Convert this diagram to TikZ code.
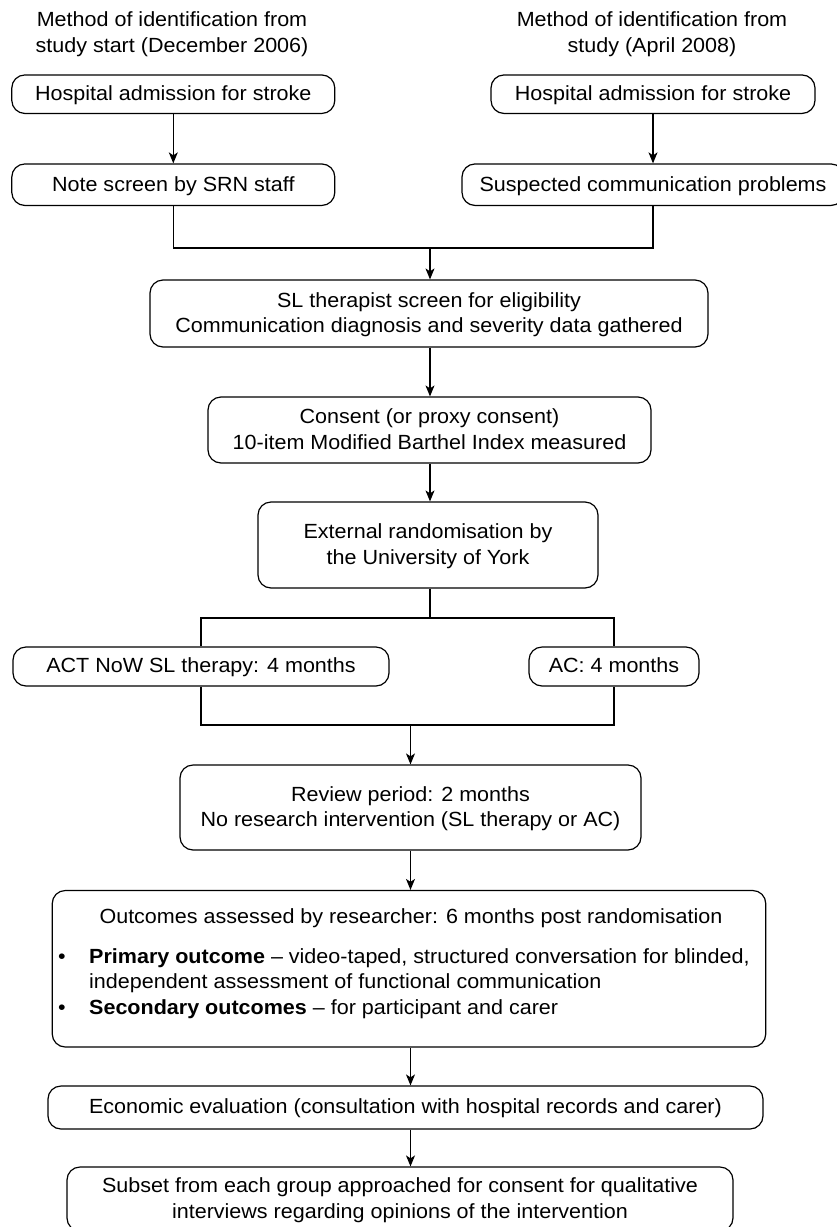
\documentclass[tikz,border=0pt]{standalone}
\usepackage{fontspec}
\setmainfont{Liberation Sans}[FakeStretch=1.05]
\usetikzlibrary{arrows.meta}
\begin{document}
\begin{tikzpicture}[x=1pt,y=-1pt,
  every node/.style={font=\fontsize{20.5}{25.5}\selectfont, text=black},
  box/.style={draw, line width=1.2pt, rounded corners=13pt, align=center, inner sep=0pt, text depth=2pt},
  arr/.style={-{Stealth[length=11pt,width=9pt,inset=3pt]}, line width=1.1pt},
  conn/.style={line width=1.1pt},
  txt/.style={anchor=base west, inner sep=0pt}]
\useasboundingbox (0,0) rectangle (837,1227);

% titles
\node[align=center] (tl) at (172,34) {Method of identification from\\study start (December 2006)};
\node[align=center] (tr) at (652,34) {Method of identification from\\study (April 2008)};

% top boxes
\node[box, minimum width=323pt, minimum height=38.5pt] (a1) at (173.3,94.2) {Hospital admission for stroke};
\node[box, minimum width=324pt, minimum height=38.5pt] (b1) at (653,94.2) {Hospital admission for stroke};
\node[box, minimum width=323pt, minimum height=41.5pt] (a2) at (173.3,184.7) {Note screen by SRN staff};
\node[box, minimum width=382pt, minimum height=41.5pt] (b2) at (653,184.7) {Suspected communication problems};
\coordinate (j1) at (430,248);

\node[box, minimum width=558pt, minimum height=67pt] (sl) at (429,313.5) {SL therapist screen for eligibility\\Communication diagnosis and severity data gathered};
\node[box, minimum width=443pt, minimum height=66pt] (cons) at (429.5,430) {Consent (or proxy consent)\\10-item Modified Barthel Index measured};
\node[box, minimum width=340pt, minimum height=86pt] (rand) at (428,545) {External randomisation by\\the University of York};
\coordinate (s1) at (430,618);

\node[box, minimum width=376pt, minimum height=39pt] (act) at (201,666.5) {ACT NoW SL therapy: 4 months};
\node[box, minimum width=170pt, minimum height=39pt] (ac) at (614,666.5) {AC: 4 months};
\coordinate (j2) at (410.5,725);

\node[box, minimum width=461pt, minimum height=85pt] (rev) at (410.5,807.5) {Review period: 2 months\\No research intervention (SL therapy or AC)};

\node[box, minimum width=713.5pt, minimum height=156.5pt] (outc) at (409,968.75) {};
\node[anchor=base, inner sep=0pt] (ot) at (411,923) {Outcomes assessed by researcher: 6 months post randomisation};
\node[txt] (o1) at (58,963) {\makebox[31pt][l]{\textbullet}\textbf{Primary outcome} – video-taped, structured conversation for blinded,};
\node[txt] (o2) at (89,988.5) {independent assessment of functional communication};
\node[txt] (o3) at (58,1014) {\makebox[31pt][l]{\textbullet}\textbf{Secondary outcomes} – for participant and carer};

\node[box, minimum width=715pt, minimum height=43pt] (econ) at (405.5,1107.5) {Economic evaluation (consultation with hospital records and carer)};
\node[box, minimum width=666pt, minimum height=64pt] (sub) at (400,1199) {Subset from each group approached for consent for qualitative\\interviews regarding opinions of the intervention};

% connectors
\draw[arr] (a1) -- (a2);
\draw[arr] (b1) -- (b2);
\draw[conn] (a2.south) -- (a2.south |- j1) -- (b2.south |- j1) -- (b2.south);
\draw[arr] (j1) -- (j1 |- sl.north);
\draw[arr] (sl.south -| j1) -- (j1 |- cons.north);
\draw[arr] (cons.south -| j1) -- (j1 |- rand.north);
\draw[conn] (rand.south -| s1) -- (s1);
\draw[conn] (act.north) -- (act.north |- s1) -- (ac.north |- s1) -- (ac.north);
\draw[conn] (act.south) -- (act.south |- j2) -- (ac.south |- j2) -- (ac.south);
\draw[arr] (j2) -- (j2 |- rev.north);
\draw[arr] (rev.south -| j2) -- (j2 |- outc.north);
\draw[arr] (outc.south -| j2) -- (j2 |- econ.north);
\draw[arr] (econ.south -| j2) -- (j2 |- sub.north);
\end{tikzpicture}
\end{document}
